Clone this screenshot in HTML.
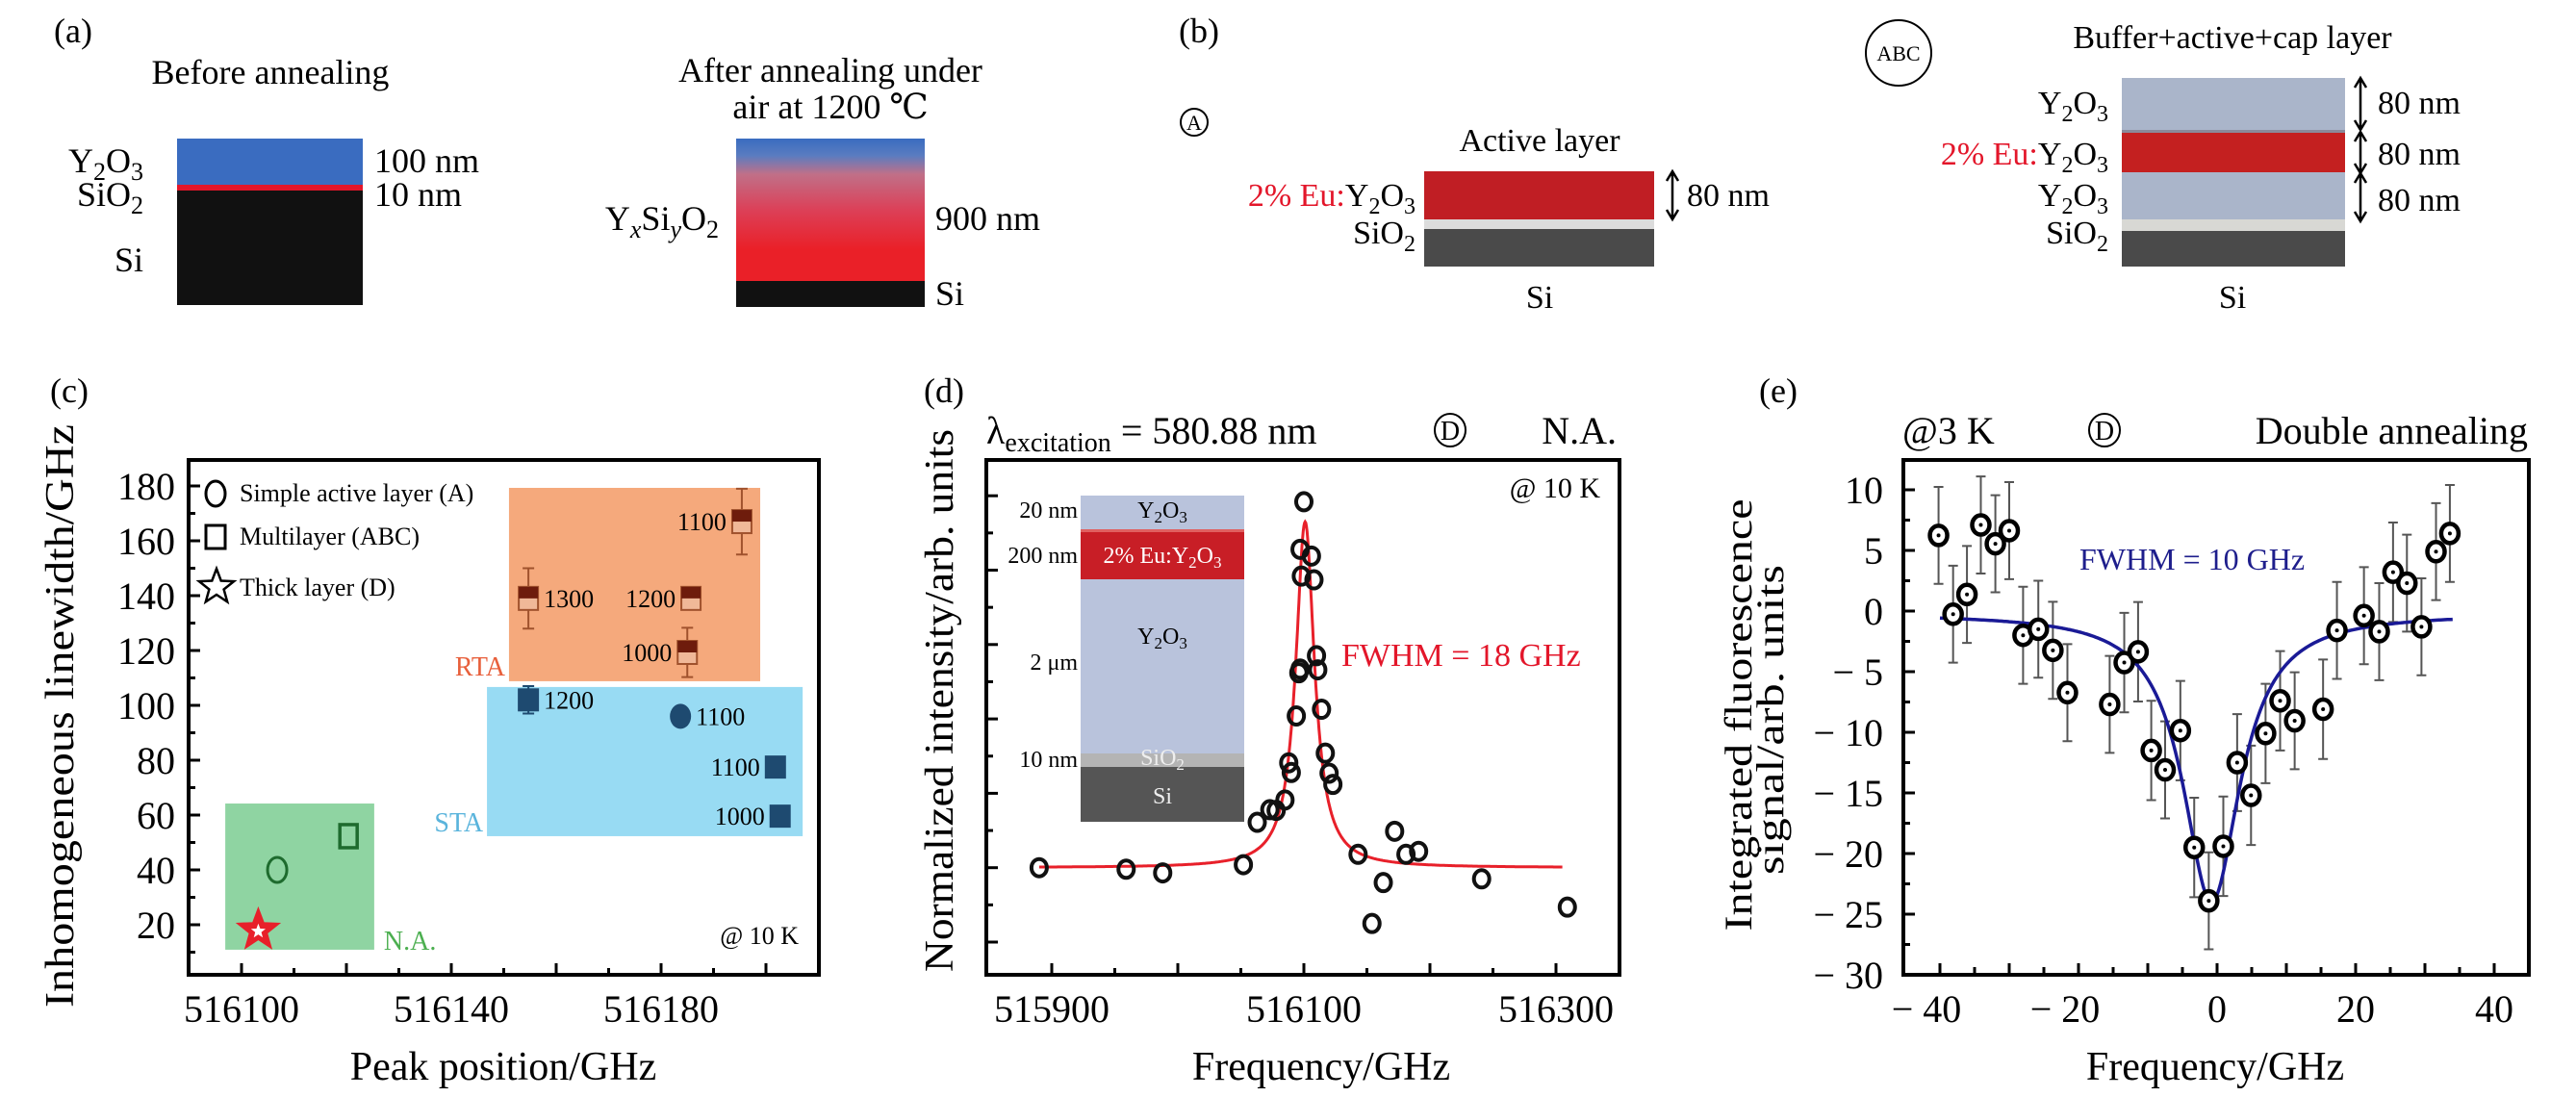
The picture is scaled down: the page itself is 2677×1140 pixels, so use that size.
<!DOCTYPE html>
<html><head><meta charset="utf-8"><style>
html,body{margin:0;padding:0;background:#fff;}
svg, svg text, svg tspan{font-family:"Liberation Serif","DejaVu Serif",serif;}
</style></head><body>
<svg id="fig" width="2677" height="1135" viewBox="0 0 2677 1135" xmlns="http://www.w3.org/2000/svg" font-family="Liberation Serif, DejaVu Serif, serif">
<defs>
<linearGradient id="annealGrad" x1="0" y1="0" x2="0" y2="1">
<stop offset="0" stop-color="#3a6cc0"/><stop offset="0.12" stop-color="#5a7cc0"/><stop offset="0.25" stop-color="#c07088"/><stop offset="0.5" stop-color="#dc4058"/><stop offset="0.78" stop-color="#ea2028"/><stop offset="1" stop-color="#ea2028"/>
</linearGradient>
</defs>
<g font-size="36">
<text x="56" y="44">(a)</text>
<text x="281" y="87" text-anchor="middle">Before annealing</text>
<rect x="184" y="144" width="193" height="48" fill="#3a6cc0"/>
<rect x="184" y="192" width="193" height="6" fill="#e3162a"/>
<rect x="184" y="198" width="193" height="119" fill="#111"/>
<text x="149" y="179" text-anchor="end">Y<tspan font-size="26" dy="8">2</tspan><tspan dy="-8">O</tspan><tspan font-size="26" dy="8">3</tspan></text>
<text x="149" y="214" text-anchor="end">SiO<tspan font-size="26" dy="8">2</tspan></text>
<text x="149" y="282" text-anchor="end">Si</text>
<text x="389" y="179">100 nm</text>
<text x="389" y="214">10 nm</text>
<text x="863" y="85" text-anchor="middle">After annealing under</text>
<text x="863" y="123" text-anchor="middle">air at 1200 ℃</text>
<rect x="765" y="144" width="196" height="148" fill="url(#annealGrad)"/>
<rect x="765" y="292" width="196" height="27" fill="#111"/>
<text x="747" y="239" text-anchor="end">Y<tspan font-size="26" dy="8" font-style="italic">x</tspan><tspan dy="-8">Si</tspan><tspan font-size="26" dy="8" font-style="italic">y</tspan><tspan dy="-8">O</tspan><tspan font-size="26" dy="8">2</tspan></text>
<text x="972" y="239">900 nm</text>
<text x="972" y="317">Si</text>
</g>
<g font-size="34">
<text x="1225" y="44" font-size="36">(b)</text>
<circle cx="1241" cy="127" r="14" fill="none" stroke="#000" stroke-width="2"/>
<text x="1241" y="135" font-size="22" text-anchor="middle">A</text>
<text x="1600" y="157" text-anchor="middle">Active layer</text>
<rect x="1480" y="178" width="239" height="50" fill="#c01e24"/>
<rect x="1480" y="228" width="239" height="10" fill="#dcdcdc"/>
<rect x="1480" y="238" width="239" height="39" fill="#4a4a4a"/>
<text x="1471" y="214" text-anchor="end"><tspan fill="#e3162a">2% Eu:</tspan>Y<tspan font-size="24" dy="8">2</tspan><tspan dy="-8">O</tspan><tspan font-size="24" dy="8">3</tspan></text>
<text x="1471" y="253" text-anchor="end">SiO<tspan font-size="24" dy="8">2</tspan></text>
<path d="M1738 180 V226 M1732 188 L1738 178 L1744 188 M1732 218 L1738 228 L1744 218" stroke="#000" stroke-width="2.5" fill="none"/>
<text x="1753" y="214">80 nm</text>
<text x="1600" y="320" text-anchor="middle">Si</text>
<circle cx="1973" cy="55" r="34" fill="none" stroke="#000" stroke-width="2"/>
<text x="1973" y="63" font-size="22" text-anchor="middle">ABC</text>
<text x="2320" y="50" text-anchor="middle">Buffer+active+cap layer</text>
<rect x="2205" y="81" width="232" height="54" fill="#aab5ca"/>
<rect x="2205" y="135" width="232" height="3" fill="#8a8a9a"/>
<rect x="2205" y="138" width="232" height="41" fill="#c42020"/>
<rect x="2205" y="179" width="232" height="49" fill="#aab5ca"/>
<rect x="2205" y="228" width="232" height="12" fill="#d8d8d4"/>
<rect x="2205" y="240" width="232" height="37" fill="#4a4a4a"/>
<text x="2191" y="118" text-anchor="end">Y<tspan font-size="24" dy="8">2</tspan><tspan dy="-8">O</tspan><tspan font-size="24" dy="8">3</tspan></text>
<text x="2191" y="171" text-anchor="end"><tspan fill="#e3162a">2% Eu:</tspan>Y<tspan font-size="24" dy="8">2</tspan><tspan dy="-8">O</tspan><tspan font-size="24" dy="8">3</tspan></text>
<text x="2191" y="214" text-anchor="end">Y<tspan font-size="24" dy="8">2</tspan><tspan dy="-8">O</tspan><tspan font-size="24" dy="8">3</tspan></text>
<text x="2191" y="253" text-anchor="end">SiO<tspan font-size="24" dy="8">2</tspan></text>
<path d="M2453 83 V133 M2447 91 L2453 81 L2459 91 M2447 125 L2453 135 L2459 125 M2453 139 V178 M2447 147 L2453 137 L2459 147 M2447 170 L2453 180 L2459 170 M2453 182 V228 M2447 190 L2453 180 L2459 190 M2447 220 L2453 230 L2459 220" stroke="#000" stroke-width="2.5" fill="none"/>
<text x="2471" y="118">80 nm</text>
<text x="2471" y="171">80 nm</text>
<text x="2471" y="219">80 nm</text>
<text x="2320" y="320" text-anchor="middle">Si</text>
</g>
<g id="pc"></g>
<g id="pd"></g>
<g id="pe"></g>
</svg>
<script>
// ---- Panel (c) data ----
const cLabels = ['1300','1200','1000','1100','1200','1100','1100','1000','','',''];
const cPeak = [516154.7,516185.7,516185.0,516195.4,516154.7,516183.7,516201.8,516202.7,516106.8,516120.4,516103.2];
const cWidth = [139,139,119.3,167,102,96,77.5,59.6,40,52.3,18];
const cErr = [11,3,9,12,5,0,0,0,0,0,0];
const cShape = ['rta','rta','rta','rta','sta','stacirc','sta','sta','nacirc','nasq','star'];
const cLabelSide = ['right','left','left','left','right','right','left','left','','',''];
const cRegionNames = ['RTA','STA','N.A.'];
const cRegionX0 = [516151,516146.8,516096.9];
const cRegionX1 = [516198.9,516207,516125.3];
const cRegionY0 = [108.8,52.3,10.9];
const cRegionY1 = [179.3,106.7,64.2];
const cXTicks = [516100,516140,516180];
const cYTicks = [20,40,60,80,100,120,140,160,180];
// ---- Panel (d) data ----
const dFreq = [515890,515959,515988,516052,516063,516073,516078,516085,516090,516088,516094,516096,516097,516098,516097,516100,516106,516108,516110,516111,516114,516117,516120,516123,516143,516154,516163,516172,516181,516191,516241,516309];
const dIntensity = [1.00,0.98,0.93,1.04,1.61,1.78,1.77,1.91,2.28,2.41,3.04,3.62,3.67,4.92,5.28,5.92,5.19,4.87,3.85,3.66,3.13,2.54,2.27,2.12,1.18,0.25,0.80,1.49,1.18,1.22,0.85,0.47];
const dFitCenter = [516101];
const dFitFwhm = [18];
const dFitBase = [1.0];
const dFitAmp = [4.65];
const dXTicks = [515900,516100,516300];
// ---- Panel (e) data ----
const eFreq = [-40.2,-38.1,-36.1,-34.1,-32.0,-30.0,-28.0,-25.8,-23.7,-21.6,-15.5,-13.4,-11.4,-9.5,-7.5,-5.3,-3.3,-1.2,0.9,2.9,4.9,7.0,9.1,11.2,15.3,17.3,21.2,23.4,25.4,27.4,29.5,31.6,33.6];
const eSignal = [6.24,-0.26,1.37,7.1,5.55,6.63,-2.0,-1.5,-3.24,-6.73,-7.7,-4.25,-3.36,-11.5,-13.1,-9.86,-19.5,-23.9,-19.4,-12.5,-15.2,-10.1,-7.4,-9.05,-8.1,-1.6,-0.38,-1.7,3.2,2.3,-1.3,4.9,6.4];
const eErr = [4.0,4.0,4.0,4.0,4.0,4.0,4.0,4.0,4.0,4.0,4.0,4.1,4.1,4.1,4.0,4.1,4.1,4.0,4.1,4.0,4.1,4.1,4.1,4.0,4.1,4.0,4.0,4.0,4.1,4.0,4.0,4.0,4.0];
const eFitCenter = [-0.8];
const eFitFwhm = [10];
const eFitDepth = [-23.8];
const eFitBase = [-0.2];
const eXTicks = [-40,-20,0,20,40];
const eYTicks = [10,5,0,-5,-10,-15,-20,-25,-30];

const NS='http://www.w3.org/2000/svg';
function mk(tag, attrs, parent){const e=document.createElementNS(NS,tag);for(const k in attrs)e.setAttribute(k,attrs[k]);parent.appendChild(e);return e;}
function txt(s, attrs, parent){const e=mk('text',attrs,parent);e.textContent=s;return e;}

// ================= Panel C =================
(function(){
const g=document.getElementById('pc');
const X=v=>251+(v-516100)*5.45, Y=v=>961-(v-20)*2.85;
const L=196,R=851,T=478,B=1013;
let e;
e=txt('(c)',{x:52,y:418,'font-size':36},g);


const regColors=['#f5a97c','#98dbf3','#8fd4a2'];
const regText=['#e8603c','#5ab4dc','#4caf50'];
for(let i=0;i<cRegionNames.length;i++){
 e=mk('rect',{x:X(cRegionX0[i]),y:Y(cRegionY1[i]),width:X(cRegionX1[i])-X(cRegionX0[i]),height:Y(cRegionY0[i])-Y(cRegionY1[i]),fill:regColors[i]},g);
 
 
}
e=txt('RTA',{x:X(cRegionX0[0])-4,y:702,'text-anchor':'end','font-size':28,fill:regText[0]},g);


e=txt('STA',{x:X(cRegionX0[1])-4,y:864,'text-anchor':'end','font-size':28,fill:regText[1]},g);


e=txt('N.A.',{x:X(cRegionX1[2])+10,y:987,'font-size':28,fill:regText[2]},g);


e=txt('@ 10 K',{x:830,y:981,'text-anchor':'end','font-size':26},g);


e=mk('rect',{x:L,y:T,width:R-L,height:B-T,fill:'none',stroke:'#000','stroke-width':4},g);


for(let v=10;v<=180;v+=10){const y=Y(v);const len=(v%20===0)?12:7;
 e=mk('line',{x1:L,x2:L+len,y1:y,y2:y,stroke:'#000','stroke-width':3},g);
 
 }
for(let v=516100;v<=516200;v+=10){const x=X(v);const len=(v%20===0)?12:7;
 e=mk('line',{x1:x,x2:x,y1:B,y2:B-len,stroke:'#000','stroke-width':3},g);
 
 }
cYTicks.forEach(v=>{e=txt(String(v),{x:182,y:Y(v)+14,'text-anchor':'end','font-size':40},g);
 
 });
cXTicks.forEach(v=>{e=txt(String(v),{x:X(v),y:1062,'text-anchor':'middle','font-size':40},g);
 
 });
e=txt('Peak position/GHz',{x:523,y:1122,'text-anchor':'middle','font-size':42},g);


e=txt('Inhomogeneous linewidth/GHz',{x:0,y:0,'text-anchor':'middle','font-size':42,transform:'translate(76,744) rotate(-90)',textLength:606,lengthAdjust:'spacingAndGlyphs'},g);


e=mk('ellipse',{cx:224,cy:513,rx:10,ry:13,fill:'none',stroke:'#000','stroke-width':3},g);


e=mk('rect',{x:214,y:546,width:20,height:24,fill:'none',stroke:'#000','stroke-width':3},g);


const starPath=(cx,cy,r)=>{let p='';for(let k=0;k<10;k++){const rr=k%2?r*0.42:r;const a=-Math.PI/2+k*Math.PI/5;p+=(k?'L':'M')+(cx+rr*Math.cos(a)).toFixed(1)+' '+(cy+rr*Math.sin(a)).toFixed(1);}return p+'Z';};
e=mk('path',{d:starPath(225,610,19),fill:'none',stroke:'#000','stroke-width':2.5},g);


const legTexts=['Simple active layer (A)','Multilayer (ABC)','Thick layer (D)'];const legY=[521,566,619];
for(let i=0;i<3;i++){e=txt(legTexts[i],{x:249,y:legY[i],'font-size':26},g);
 
 }
for(let i=0;i<cPeak.length;i++){
 const x=X(cPeak[i]),y=Y(cWidth[i]);const s=cShape[i];
 if(cErr[i]>0){
  e=mk('path',{d:`M${x} ${Y(cWidth[i]+cErr[i])}V${Y(cWidth[i]-cErr[i])}M${x-6} ${Y(cWidth[i]+cErr[i])}H${x+6}M${x-6} ${Y(cWidth[i]-cErr[i])}H${x+6}`,stroke:s==='rta'?'#a0522d':'#1e4a70','stroke-width':2,fill:'none'},g);
  
  
 }
 if(s==='rta'){
  e=mk('rect',{x:x-10,y:y-12,width:20,height:24,fill:'#f0b898',stroke:'#a0522d','stroke-width':2},g);
  
  
  e=mk('rect',{x:x-10,y:y-12,width:20,height:12,fill:'#6e1c0c'},g);
  
  
 } else if(s==='sta'){
  e=mk('rect',{x:x-11,y:y-12,width:22,height:24,fill:'#1e4a70'},g);
  
  
 } else if(s==='stacirc'){
  e=mk('ellipse',{cx:x,cy:y,rx:11,ry:13,fill:'#1e4a70'},g);
  
  
 } else if(s==='nacirc'){
  e=mk('ellipse',{cx:x,cy:y,rx:10,ry:13,fill:'none',stroke:'#1e6b2e','stroke-width':3},g);
  
  
 } else if(s==='nasq'){
  e=mk('rect',{x:x-9,y:y-12,width:18,height:24,fill:'none',stroke:'#1e6b2e','stroke-width':3.5},g);
  
  
 } else {
  e=mk('path',{d:starPath(x,y,22),fill:'#e8202a',stroke:'#e8202a','stroke-width':2},g);
  
  
  e=mk('path',{d:starPath(x,y+1,8),fill:'#fff'},g);
  
  
 }
 if(cLabels[i]){
  const right=cLabelSide[i]==='right';
  e=txt(cLabels[i],{x:right?x+16:x-16,y:y+9,'text-anchor':right?'start':'end','font-size':26},g);
  
  
 }
}
})();

// ================= Panel D =================
(function(){
const g=document.getElementById('pd');
const X=f=>1093+(f-515900)*1.31, Y=v=>979-v*77.3;
const L=1025,R=1683,T=478,B=1013;
let e;
e=txt('(d)',{x:960,y:418,'font-size':36},g);


e=txt('',{x:1025,y:461,'font-size':40},g);
e.innerHTML='λ<tspan font-size="28" dy="8">excitation</tspan><tspan dy="-8"> = 580.88 nm</tspan>';


e=mk('ellipse',{cx:1507,cy:447,rx:16,ry:17,fill:'none',stroke:'#000','stroke-width':2},g);


e=txt('D',{x:1507,y:457,'text-anchor':'middle','font-size':28},g);


e=txt('N.A.',{x:1680,y:461,'text-anchor':'end','font-size':40},g);


const layers=[[515,550,'#b9c3dc'],[550,553,'#e06060'],[553,602,'#c81e26'],[602,783,'#b9c3dc'],[783,797,'#b4b4b4'],[797,854,'#555']];
layers.forEach(l=>{e=mk('rect',{x:1123,y:l[0],width:170,height:l[1]-l[0],fill:l[2]},g);
 
 });
const insetL=[['20 nm',530],['200 nm',577],['2 μm',688],['10 nm',789]];
insetL.forEach(t=>{e=txt(t[0],{x:1120,y:t[1]+8,'text-anchor':'end','font-size':24},g);
 
 });
e=txt('',{x:1208,y:538,'text-anchor':'middle','font-size':24},g);
e.innerHTML='Y<tspan font-size="17" dy="5">2</tspan><tspan dy="-5">O</tspan><tspan font-size="17" dy="5">3</tspan>';


e=txt('',{x:1208,y:585,'text-anchor':'middle','font-size':24,fill:'#fff'},g);
e.innerHTML='2% Eu:Y<tspan font-size="17" dy="5">2</tspan><tspan dy="-5">O</tspan><tspan font-size="17" dy="5">3</tspan>';


e=txt('',{x:1208,y:669,'text-anchor':'middle','font-size':24},g);
e.innerHTML='Y<tspan font-size="17" dy="5">2</tspan><tspan dy="-5">O</tspan><tspan font-size="17" dy="5">3</tspan>';


e=txt('',{x:1208,y:795,'text-anchor':'middle','font-size':24,fill:'#eee'},g);
e.innerHTML='SiO<tspan font-size="17" dy="5">2</tspan>';


e=txt('Si',{x:1208,y:835,'text-anchor':'middle','font-size':24,fill:'#eee'},g);


e=mk('rect',{x:L,y:T,width:R-L,height:B-T,fill:'none',stroke:'#000','stroke-width':4},g);


for(let v=0;v<=6;v+=0.5){const y=Y(v);const len=(v%1===0)?12:7;
 e=mk('line',{x1:L,x2:L+len,y1:y,y2:y,stroke:'#000','stroke-width':3},g);
 
 }
for(let f=515900;f<=516300;f+=50){const x=X(f);const len=(f%100===0)?12:7;
 e=mk('line',{x1:x,x2:x,y1:B,y2:B-len,stroke:'#000','stroke-width':3},g);
 
 }
dXTicks.forEach(f=>{e=txt(String(f),{x:X(f),y:1062,'text-anchor':'middle','font-size':40},g);
 
 });
e=txt('Frequency/GHz',{x:1373,y:1122,'text-anchor':'middle','font-size':42},g);


e=txt('Normalized intensity/arb. units',{x:0,y:0,'text-anchor':'middle','font-size':42,transform:'translate(990,728) rotate(-90)',textLength:564,lengthAdjust:'spacingAndGlyphs'},g);


e=txt('@ 10 K',{x:1663,y:517,'text-anchor':'end','font-size':30},g);


e=txt('FWHM = 18 GHz',{x:1394,y:692,'font-size':34,fill:'#e3162a'},g);


const hw=dFitFwhm[0]/2;let p='';
for(let f=515890;f<=516305;f+=0.5){const v=dFitBase[0]+dFitAmp[0]*hw*hw/((f-dFitCenter[0])**2+hw*hw);p+=(p?'L':'M')+X(f).toFixed(1)+' '+Y(v).toFixed(1);}
e=mk('path',{d:p,fill:'none',stroke:'#e8202a','stroke-width':3},g);


for(let i=0;i<dFreq.length;i++){
 e=mk('ellipse',{cx:X(dFreq[i]),cy:Y(dIntensity[i]),rx:8,ry:9,fill:'none',stroke:'#111','stroke-width':4},g);
 
 
}
})();

// ================= Panel E =================
(function(){
const g=document.getElementById('pe');
const X=f=>2304+f*7.2, Y=v=>509+(10-v)*12.6;
const L=1978,R=2628,T=478,B=1013;
let e;
e=txt('(e)',{x:1828,y:418,'font-size':36},g);


e=txt('@3 K',{x:1977,y:461,'font-size':40},g);


e=mk('ellipse',{cx:2187,cy:447,rx:16,ry:17,fill:'none',stroke:'#000','stroke-width':2},g);


e=txt('D',{x:2187,y:457,'text-anchor':'middle','font-size':28},g);


e=txt('Double annealing',{x:2627,y:461,'text-anchor':'end','font-size':40},g);


e=mk('rect',{x:L,y:T,width:R-L,height:B-T,fill:'none',stroke:'#000','stroke-width':4},g);


for(let v=-30;v<=12.5;v+=2.5){const y=Y(v);const len=(v%5===0)?12:7;
 e=mk('line',{x1:L,x2:L+len,y1:y,y2:y,stroke:'#000','stroke-width':3},g);
 
 }
for(let f=-40;f<=40;f+=5){const x=X(f);const len=(f%10===0)?12:8;
 e=mk('line',{x1:x,x2:x,y1:B,y2:B-len,stroke:'#000','stroke-width':3},g);
 
 }
const fmt=v=>v<0?'− '+Math.abs(v):String(v);
eYTicks.forEach(v=>{e=txt(fmt(v),{x:1957,y:Y(v)+14,'text-anchor':'end','font-size':40},g);
 
 });
eXTicks.forEach(f=>{e=txt(fmt(f),{x:X(f)-(f<0?14:0),y:1062,'text-anchor':'middle','font-size':40},g);
 
 });
e=txt('Frequency/GHz',{x:2302,y:1122,'text-anchor':'middle','font-size':42},g);


e=txt('Integrated fluorescence',{x:0,y:0,'text-anchor':'middle','font-size':40,transform:'translate(1820,743) rotate(-90)',textLength:449,lengthAdjust:'spacingAndGlyphs'},g);


e=txt('signal/arb. units',{x:0,y:0,'text-anchor':'middle','font-size':40,transform:'translate(1853,748) rotate(-90)',textLength:322,lengthAdjust:'spacingAndGlyphs'},g);


e=txt('FWHM = 10 GHz',{x:2161,y:592,'font-size':32,fill:'#1e1e8c'},g);


for(let i=0;i<eFreq.length;i++){
 const x=X(eFreq[i]),y1=Y(eSignal[i]+eErr[i]),y2=Y(eSignal[i]-eErr[i]);
 e=mk('path',{d:`M${x} ${y1}V${y2}M${x-5} ${y1}H${x+5}M${x-5} ${y2}H${x+5}`,stroke:'#555','stroke-width':2,fill:'none'},g);
 
 
}
const hw=eFitFwhm[0]/2;let p='';
for(let f=-40;f<=34;f+=0.25){const v=eFitBase[0]+eFitDepth[0]*hw*hw/((f-eFitCenter[0])**2+hw*hw);p+=(p?'L':'M')+X(f).toFixed(1)+' '+Y(v).toFixed(1);}
e=mk('path',{d:p,fill:'none',stroke:'#1a1a96','stroke-width':3.5},g);


for(let i=0;i<eFreq.length;i++){
 const x=X(eFreq[i]),y=Y(eSignal[i]);
 e=mk('ellipse',{cx:x,cy:y,rx:9,ry:10,fill:'#fff',stroke:'#000','stroke-width':4.5},g);
 
 
 e=mk('circle',{cx:x,cy:y,r:2,fill:'#000'},g);
 
 
}
})();
</script>
</body></html>
